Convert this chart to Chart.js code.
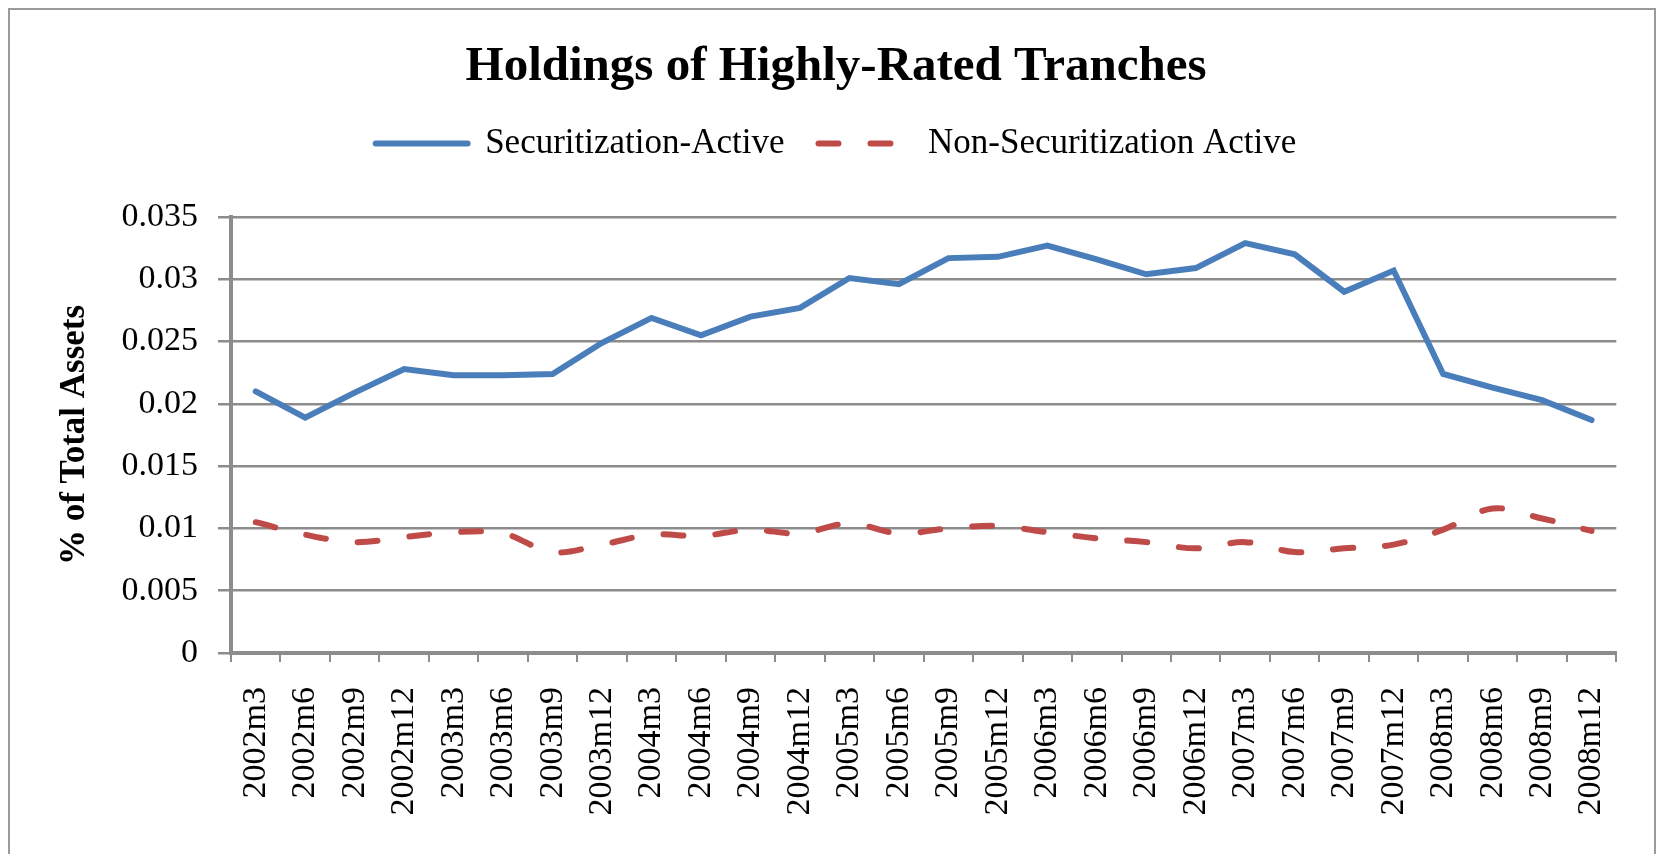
<!DOCTYPE html>
<html lang="en">
<head>
    <meta charset="UTF-8">
    <title>Holdings of Highly-Rated Tranches</title>
    <script src="https://cdn.jsdelivr.net/npm/chart.js"></script>
    <style>
        body {
            margin: 0;
            background: white;
            overflow: hidden;
        }

        .chart-box {
            position: absolute;
            left: 0;
            top: 0;
            width: 1658px;
            height: 854px;
        }

        .frame {
            position: absolute;
            left: 8px;
            top: 8px;
            width: 1644px;
            height: 900px;
            border: 2px solid #9a9a9a;
            border-bottom: none;
            pointer-events: none;
        }
    </style>
</head>
<body>
    <div class="chart-box">
        <canvas id="chart"></canvas>
    </div>
    <div class="frame"></div>

    <script>
        const quarters = [
            '2002m3', '2002m6', '2002m9', '2002m12',
            '2003m3', '2003m6', '2003m9', '2003m12',
            '2004m3', '2004m6', '2004m9', '2004m12',
            '2005m3', '2005m6', '2005m9', '2005m12',
            '2006m3', '2006m6', '2006m9', '2006m12',
            '2007m3', '2007m6', '2007m9', '2007m12',
            '2008m3', '2008m6', '2008m9', '2008m12'
        ];

        const securitizationActive = [
            0.0210, 0.0189, 0.0209, 0.0228,
            0.0223, 0.0223, 0.0224, 0.0249,
            0.0269, 0.0255, 0.0270, 0.0277,
            0.0301, 0.0296, 0.0317, 0.0318,
            0.0327, 0.0316, 0.0304, 0.0309,
            0.0329, 0.0320, 0.0290, 0.0307,
            0.0224, 0.0213, 0.0203, 0.0187
        ];

        const nonSecuritizationActive = [
            0.0105, 0.0095, 0.0089, 0.0093,
            0.0097, 0.0096, 0.0081, 0.0087,
            0.0095, 0.0094, 0.0099, 0.0096,
            0.0104, 0.0096, 0.0100, 0.0102,
            0.0097, 0.0092, 0.0089, 0.0084,
            0.0089, 0.0081, 0.0084, 0.0087,
            0.0099, 0.0116, 0.0108, 0.0098
        ];

        const yTicks = [0, 0.005, 0.01, 0.015, 0.02, 0.025, 0.03, 0.035];

        const serif = "'Liberation Serif', 'Times New Roman', serif";
        const gridGray = '#8c8c8c';

        // extra room under the legend so the plot starts lower
        const legendSpace = {
            id: 'legendSpace',
            beforeInit(chart) {
                const fit = chart.legend.fit;
                chart.legend.fit = function () {
                    fit.bind(chart.legend)();
                    this.height += 46;
                };
            }
        };

        new Chart(document.getElementById('chart'), {
            type: 'line',
            data: {
                labels: quarters,
                datasets: [{
                    label: 'Securitization-Active',
                    data: securitizationActive,
                    borderColor: '#4A7EBB',
                    backgroundColor: '#4A7EBB',
                    borderWidth: 6,
                    borderCapStyle: 'round',
                    pointRadius: 0,
                    tension: 0,
                    fill: false
                }, {
                    label: 'Non-Securitization Active',
                    data: nonSecuritizationActive,
                    borderColor: '#BE4B48',
                    backgroundColor: '#BE4B48',
                    borderWidth: 6,
                    borderDash: [20, 32],
                    borderCapStyle: 'round',
                    pointRadius: 0,
                    tension: 0.35,
                    fill: false
                }]
            },
            options: {
                responsive: true,
                maintainAspectRatio: false,
                animation: false,
                devicePixelRatio: 1,
                layout: {
                    padding: { left: 50, right: 36, top: 0, bottom: 0 }
                },
                plugins: {
                    title: {
                        display: true,
                        text: 'Holdings of Highly-Rated Tranches',
                        color: '#000',
                        font: { family: serif, size: 49, weight: 'bold', lineHeight: 1 },
                        padding: { top: 43, bottom: 0 }
                    },
                    legend: {
                        display: true,
                        labels: {
                            color: '#000',
                            font: { family: serif, size: 35 },
                            usePointStyle: true,
                            pointStyle: 'line',
                            pointStyleWidth: 92,
                            padding: 34,
                            generateLabels(chart) {
                                const items = Chart.defaults.plugins.legend.labels.generateLabels(chart);
                                items.forEach((item, i) => {
                                    const ds = chart.data.datasets[i];
                                    item.lineDash = ds.borderDash || [];
                                    item.lineWidth = ds.borderWidth;
                                    item.strokeStyle = ds.borderColor;
                                    item.lineCap = ds.borderCapStyle;
                                });
                                return items;
                            }
                        }
                    },
                    tooltip: { enabled: false }
                },
                scales: {
                    x: {
                        offset: true,
                        afterFit(scale) {
                            scale.height = 201;
                        },
                        grid: {
                            offset: true,
                            drawOnChartArea: false,
                            drawTicks: true,
                            tickLength: 9,
                            tickColor: gridGray,
                            lineWidth: 2
                        },
                        border: { display: true, color: gridGray, width: 4 },
                        ticks: {
                            autoSkip: false,
                            maxRotation: 90,
                            minRotation: 90,
                            padding: 25,
                            color: '#000',
                            font: { family: serif, size: 34 }
                        }
                    },
                    y: {
                        min: 0,
                        max: 0.035,
                        afterFit(scale) {
                            scale.width = 181;
                        },
                        afterBuildTicks(scale) {
                            scale.ticks = yTicks.map(v => ({ value: v }));
                        },
                        title: {
                            display: true,
                            text: '% of Total Assets',
                            color: '#000',
                            font: { family: serif, size: 35, weight: 'bold' },
                            padding: { top: 4, bottom: 0 }
                        },
                        grid: {
                            color: gridGray,
                            lineWidth: 2.5,
                            tickLength: 13,
                            tickColor: gridGray
                        },
                        border: { display: true, color: gridGray, width: 4 },
                        ticks: {
                            padding: 20,
                            color: '#000',
                            font: { family: serif, size: 34 },
                            callback: v => String(parseFloat(v.toFixed(3)))
                        }
                    }
                }
            },
            plugins: [legendSpace]
        });
    </script>
</body>
</html>
